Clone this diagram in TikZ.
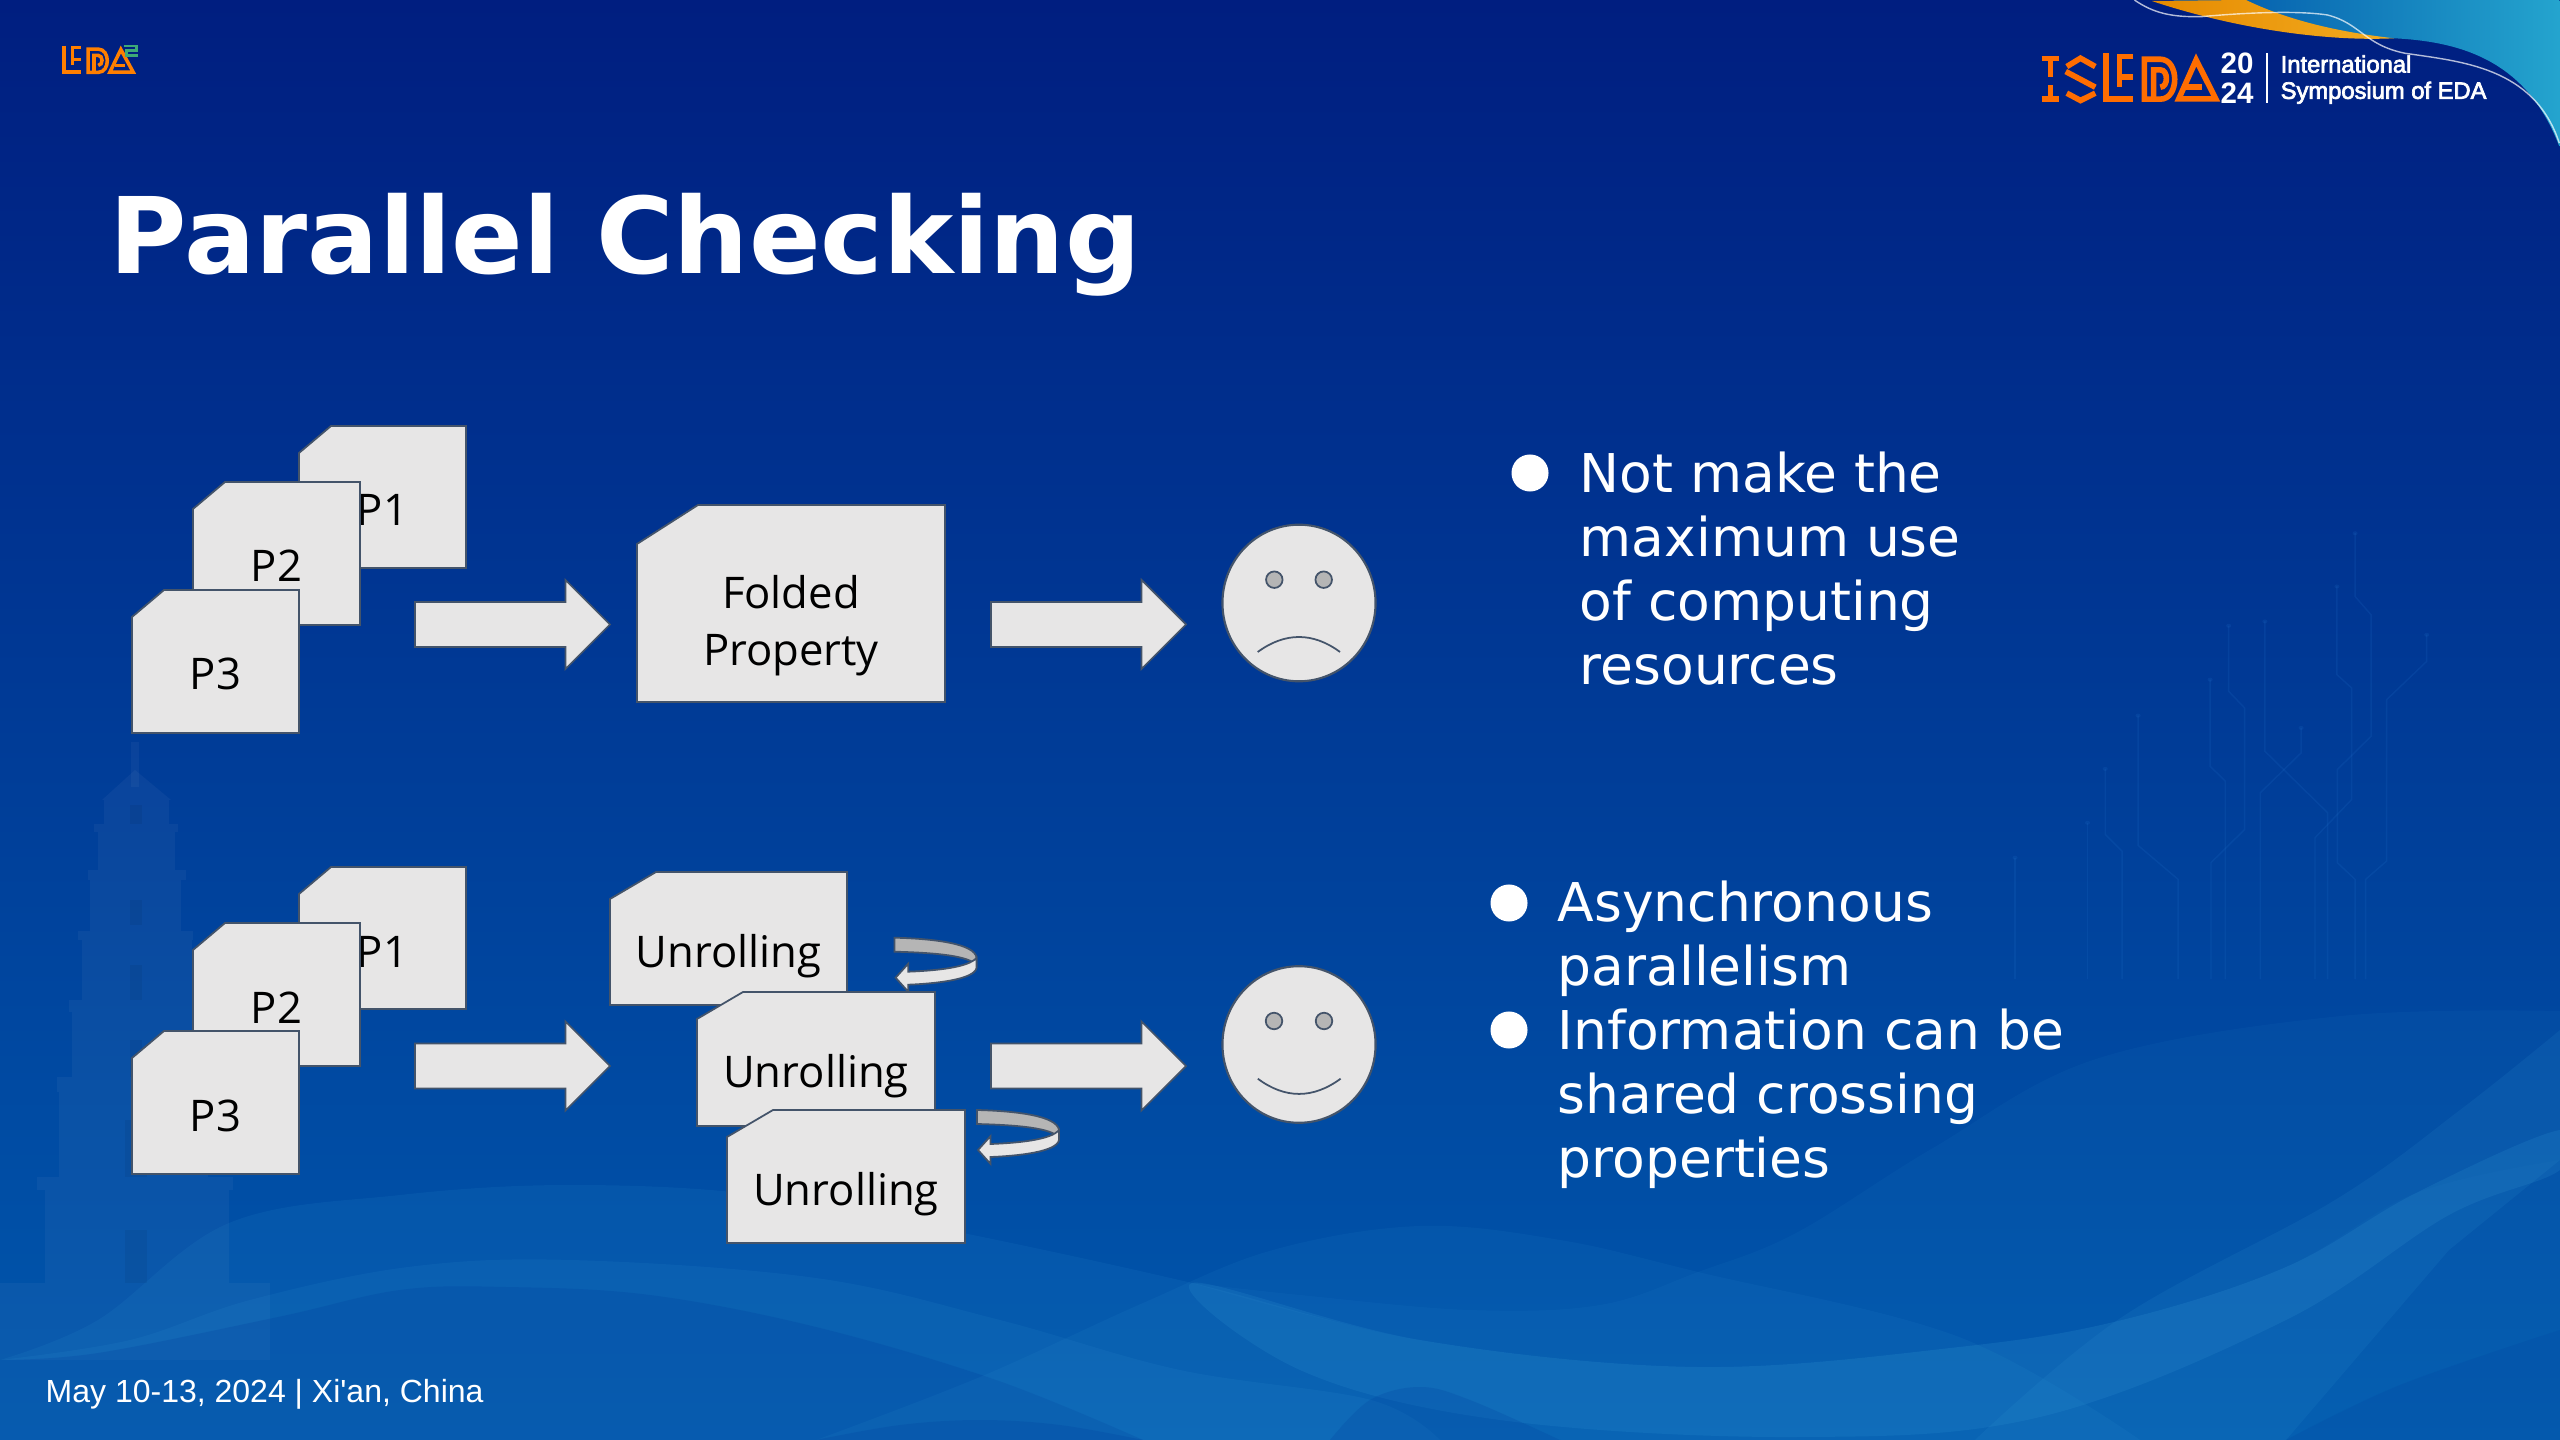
\documentclass[tikz,border=0pt]{standalone}
\usepackage{fontspec}
\usetikzlibrary{shapes.geometric,shapes.arrows}
\setmainfont{DejaVu Sans}
\newfontfamily\labelfont{Open Sans}
\newfontfamily\footfont{Liberation Sans}
\newfontfamily\logofont[BoldFont=Liberation Sans,BoldFeatures={FakeBold=3}]{Liberation Sans}
\newfontfamily\yearfont{Liberation Sans}
\definecolor{cardfill}{HTML}{E7E6E6}
\definecolor{cardline}{HTML}{44546A}
\definecolor{eyefill}{HTML}{B5B5B5}
\definecolor{logoorange}{HTML}{FF6D00}
\definecolor{logogreen}{HTML}{3DAA78}
\definecolor{waveblue}{HTML}{3FA8E0}
\definecolor{wavedeep}{HTML}{003C9C}
\definecolor{traceblue}{HTML}{2878D2}
\tikzset{
    cardshape/.style={fill=cardfill,draw=cardline,line width=0.5pt,line join=miter},
    cardtext/.style={font=\labelfont\fontsize{12.4}{16.4}\selectfont,text=black,inner sep=0pt,anchor=base},
    blockarrow/.style={single arrow,fill=cardfill,draw=cardline,line width=0.5pt,minimum height=1.95cm,anchor=tail,
        minimum width=0.87cm,single arrow head extend=0.22cm,inner xsep=0pt,inner ysep=0.215cm},
    faceshape/.style={ellipse,fill=cardfill,draw=cardline,line width=0.6pt,minimum width=1.53cm,minimum height=1.565cm,inner sep=0pt},
    eyeshape/.style={circle,fill=eyefill,draw=cardline,line width=0.5pt,minimum size=0.165cm,inner sep=0pt},
    mouthline/.style={draw=cardline,line width=0.5pt},
    bulletdot/.style={circle,fill=white,minimum size=0.37cm,inner sep=0pt},
    bullettext/.style={font=\fontsize{15.2}{18.2}\selectfont,text=white,align=left,inner sep=0pt,anchor=north west},
    logostroke/.style={draw=logoorange,line width=1.6pt,line join=miter},
    tracing/.style={draw=traceblue,opacity=0.15,line width=0.4pt},
    wavefill/.style={fill=waveblue,fill opacity=#1},
}
\newcommand{\card}[9]{
    \draw[cardshape] (#2+#6,#3) -- (#2+#4,#3) -- (#2+#4,#3+#5) -- (#2,#3+#5) -- (#2,#3+#7) -- cycle;
    \pgfmathsetmacro{\cardmid}{#2+#4/2}
    \node[cardtext] (#1) at (\cardmid,#8) {#9};
}
\newcommand{\turnarrow}[3]{
    \begin{scope}[shift={(#2,#3)}]
        \coordinate (#1) at (0,0);
        \draw[fill=eyefill,draw=cardline,line width=0.5pt] (0,0) .. controls (40,1) and (80,6) .. (82,20) -- (82,28)
            .. controls (76,18) and (40,15) .. (0,14) -- cycle;
        \draw[fill=cardfill,draw=cardline,line width=0.5pt] (82,20) -- (82,30) .. controls (80,42) and (40,46) .. (13.6,47)
            -- (13.6,54) -- (1,40) -- (13.6,26) -- (13.6,34) .. controls (40,33) and (74,30) .. (82,20) -- cycle;
    \end{scope}
}
\newcommand{\edaletters}{
    \draw[logostroke] (8,0) -- (8,137) -- (82,137);
    \draw[logostroke] (82,10) -- (45,10) -- (45,102);
    \draw[logostroke] (45,72) -- (82,72);
    \draw[logostroke] (112,18) -- (155,18) .. controls (207,18) and (207,138) .. (155,138) -- (112,138) -- cycle;
    \draw[logostroke] (137,138) -- (137,50) -- (155,50) .. controls (177,50) and (177,102) .. (155,102);
    \draw[logostroke,line join=miter] (252,20) -- (305,137) -- (205,137) -- cycle;
    \draw[logostroke] (225,102) -- (268,102);
}

\begin{document}
\begin{tikzpicture}[x=0.01cm,y=-0.01cm]
    \useasboundingbox (0,0) rectangle (2560,1440);
    % backdrop
    \shade[top color={rgb,255:red,0;green,30;blue,128},middle color={rgb,255:red,0;green,58;blue,146},bottom color={rgb,255:red,0;green,88;blue,173}] (0,0) rectangle (2560,1440);
    % pagoda
    \begin{scope}[fill=white,fill opacity=0.04]
        \fill (131,742) rectangle (139,787);
        \fill (135,770) -- (171,800) -- (102,800) -- cycle;
        \fill (104,800) rectangle (169,824);
        \fill (94,824) rectangle (178,832);
        \fill (98,832) rectangle (175,870);
        \fill (88,870) rectangle (186,880);
        \fill (90,880) rectangle (181,931);
        \fill (78,931) rectangle (193,940);
        \fill (82,940) rectangle (192,1000);
        \fill (69,1000) rectangle (204,1012);
        \fill (72,1012) rectangle (200,1077);
        \fill (57,1077) rectangle (212,1092);
        \fill (59,1092) rectangle (208,1177);
        \fill (37,1177) rectangle (233,1190);
        \fill (45,1190) rectangle (229,1283);
        \fill (0,1283) rectangle (270,1360);
    \end{scope}
    \begin{scope}[fill=black,fill opacity=0.05]
        \fill (130,805) rectangle (142,824);
        \fill (130,900) rectangle (142,925);
        \fill (130,965) rectangle (142,1000);
        \fill (130,1040) rectangle (142,1077);
        \fill (125,1120) rectangle (147,1177);
        \fill (125,1230) rectangle (147,1283);
    \end{scope}
    % traces
    \begin{scope}[shift={(1900,480)},x=0.004209cm,y=-0.003333cm]
        \draw[tracing] (1080,160) -- (1080,350) -- (1118,405) -- (1118,770) -- (1038,870) -- (1038,1150) -- (1080,1200) -- (1080,1500);
        \draw[tracing] (1037,320) -- (1037,585) -- (1072,625) -- (1072,960) -- (985,1075) -- (985,1500);
        \draw[tracing] (1250,465) -- (1250,545) -- (1155,660) -- (1155,1145) -- (1105,1200) -- (1105,1500);
        \draw[tracing] (866,425) -- (866,815) -- (1015,1000) -- (1015,1500);
        \draw[tracing] (952,745) -- (952,820) -- (855,940) -- (855,1500);
        \draw[tracing] (780,438) -- (780,635) -- (818,685) -- (818,1050) -- (738,1150) -- (738,1500);
        \draw[tracing] (736,600) -- (736,860) -- (772,905) -- (772,1500);
        \draw[tracing] (565,708) -- (565,1098) -- (660,1200) -- (660,1500);
        \draw[tracing] (487,868) -- (487,1065) -- (527,1115) -- (527,1500);
        \draw[tracing] (445,1030) -- (445,1500);
        \draw[tracing] (273,1135) -- (273,1500);
        \foreach \dotx/\doty in {1080/160,1037/320,1250/465,866/425,952/745,780/438,736/600,565/708,487/868,445/1030,273/1135}
            \fill[traceblue,opacity=0.15] (\dotx,\doty) circle (6);
    \end{scope}
    % waves
    \fill[wavefill=0.09] plot[smooth,tension=0.6] coordinates {(0,1360) (98,1320) (229,1223) (400,1195) (571,1185) (760,1195) (963,1233) (1192,1283) (1420,1340) (1698,1367) (1959,1347) (2122,1320) (2286,1267) (2416,1193) (2560,1160)} -- (2560,1440) -- (0,1440) -- cycle;
    \fill[wavefill=0.09] plot[smooth,tension=0.6] coordinates {(0,1360) (130,1340) (250,1300) (408,1267) (571,1260) (816,1278) (1000,1320) (1180,1370) (1371,1400) (1440,1440)} -- (0,1440) -- cycle;
    \fill[fill=wavedeep,fill opacity=0.22] plot[smooth,tension=0.6] coordinates {(0,1360) (98,1353) (278,1317) (400,1290) (506,1287) (650,1295) (816,1327) (996,1380) (1143,1440)} -- (0,1440) -- cycle;
    \fill[wavefill=0.08] plot[smooth,tension=0.6] coordinates {(816,1440) (980,1377) (1143,1303) (1273,1250) (1420,1226) (1560,1240) (1698,1272) (1959,1337) (2140,1440)} -- cycle;
    % the big swell on the right, closed along the edge of the first wave
    \fill[wavefill=0.06] plot[smooth,tension=0.6] coordinates {(1192,1283) (1300,1295) (1469,1310) (1600,1305) (1698,1272) (1796,1233) (1933,1148) (2096,1059) (2341,1016) (2560,1011)}
        -- plot[smooth,tension=0.6] coordinates {(2560,1160) (2416,1193) (2286,1267) (2122,1320) (1959,1347) (1698,1367) (1420,1340) (1192,1283)} -- cycle;
    % bright band low in the middle
    \fill[wavefill=0.14] plot[smooth cycle,tension=0.6] coordinates {(1192,1283) (1420,1340) (1698,1367) (1959,1347) (2122,1320) (2286,1267) (2416,1193) (2560,1130) (2560,1170) (2449,1215) (2286,1320) (2040,1417) (1796,1437) (1500,1420) (1300,1370)};
    \fill[wavefill=0.1] plot[smooth,tension=0.6] coordinates {(1975,1440) (2122,1317) (2335,1200) (2460,1110) (2560,1030)} -- (2560,1160) -- (2449,1250) -- (2286,1440) -- cycle;
    \fill[fill=wavedeep,fill opacity=0.2] plot[smooth,tension=0.6] coordinates {(816,1440) (900,1425) (980,1420) (1060,1425) (1143,1440)} -- cycle;
    \fill[fill=wavedeep,fill opacity=0.2] plot[smooth,tension=0.6] coordinates {(1330,1440) (1370,1400) (1420,1387) (1470,1400) (1560,1440)} -- cycle;
    \fill[fill=wavedeep,fill opacity=0.16] plot[smooth,tension=0.6] coordinates {(2286,1440) (2400,1385) (2560,1330)} -- (2560,1440) -- cycle;
    % corner
    \begin{scope}[shift={(1980,0)},x=0.0036996cm,y=-0.003333cm]
        \shade[left color={rgb,255:red,0;green,84;blue,168},right color={rgb,255:red,36;green,164;blue,206}] (520,0) .. controls (650,60) and (850,110) .. (1120,115)
            .. controls (1300,125) and (1480,180) .. (1568,440) -- (1568,0) -- cycle;
        \shade[left color={rgb,255:red,230;green,138;blue,0},right color={rgb,255:red,242;green,172;blue,32}] (465,3) -- (720,0) .. controls (850,70) and (1000,100) .. (1120,115)
            .. controls (950,125) and (700,90) .. (465,3) -- cycle;
        \draw[white,opacity=0.7,line width=0.4pt] (418,0) .. controls (470,40) and (520,52) .. (600,50) .. controls (700,40) and (850,30) .. (940,45)
            .. controls (1030,70) and (1040,135) .. (1150,160) .. controls (1300,185) and (1500,200) .. (1568,430);
        % big logo
        \draw[logostroke] (167,176) -- (215,176);
        \draw[logostroke] (167,297) -- (215,297);
        \draw[logostroke] (191,176) -- (191,230);
        \draw[logostroke] (191,255) -- (191,297);
        \draw[logostroke] (235,200) -- (272,175) -- (312,200);
        \draw[logostroke] (232,215) -- (312,262);
        \draw[logostroke] (235,280) -- (272,302) -- (312,280);
        \begin{scope}[shift={(333,160)}]
            \edaletters
        \end{scope}
        \node[font=\yearfont\bfseries\fontsize{8.4}{8.6}\selectfont,text=white,align=center,inner sep=0pt] (year) at (696,235) {20\\24};
        \draw[white,line width=0.5pt] (777,160) -- (777,310);
        \node[font=\logofont\bfseries\fontsize{6.75}{7.4}\selectfont,text=white,inner sep=0pt,anchor=base west] (symposium) at (812,297) {Symposium of EDA};
        \node[font=\logofont\bfseries\fontsize{6.75}{7.4}\selectfont,text=white,inner sep=0pt,anchor=base west] (international) at (812,218) {International};
    \end{scope}
    % small logo
    \begin{scope}[shift={(62,34)},x=0.00233cm,y=-0.00194cm]
        \tikzset{logostroke/.append style={line width=1pt,draw=logoorange!88!yellow}}
        \begin{scope}[shift={(0,60)}]
            \edaletters
        \end{scope}
        \draw[logogreen,line width=0.8pt] (265,62) -- (320,62) -- (320,85) -- (275,85) -- (275,110) -- (325,110);
    \end{scope}
    % heading
    \node[font=\bfseries\fontsize{30.05}{30}\selectfont,text=white,inner sep=0pt,anchor=base west] (title) at (109,274) {Parallel Checking};
    % first row
    \card{pa}{299}{426}{167}{142}{32}{27}{526}{P1}
    \card{pb}{193}{482}{167}{143}{32}{27}{582}{P2}
    \card{pc}{132}{590}{167}{143}{32}{27}{690}{P3}
    \node[blockarrow] (arrowa) at (414,624.5) {};
    \card{folded}{637}{505}{308}{197}{61}{39}{609}{Folded}
    \node[cardtext] (foldedb) at (791,666) {Property};
    \node[blockarrow] (arrowb) at (990,624.5) {};
    \node[faceshape] (sadface) at (1299,603) {};
    \node[eyeshape] (sadeyea) at (1274.3,579.7) {};
    \node[eyeshape] (sadeyeb) at (1323.7,579.7) {};
    \coordinate (sadmoutha) at (1257.7,652);
    \coordinate (sadmouthb) at (1340,652);
    \draw[mouthline] (sadmoutha) .. controls (1285,632) and (1313,632) .. (sadmouthb);
    % second row
    \card{pd}{299}{867}{167}{142}{32}{27}{967}{P1}
    \card{pe}{193}{923}{167}{143}{32}{27}{1023}{P2}
    \card{pf}{132}{1031}{167}{143}{32}{27}{1131}{P3}
    \node[blockarrow] (arrowc) at (414,1066) {};
    \card{unrolla}{610}{872}{237}{133}{46}{27}{967}{Unrolling}
    \turnarrow{turna}{894.6}{937.7}
    \card{unrollb}{697}{992}{238}{134}{46}{27}{1087}{Unrolling}
    \card{unrollc}{727}{1110}{238}{133}{46}{27}{1205}{Unrolling}
    \turnarrow{turnb}{977}{1110}
    \node[blockarrow] (arrowd) at (990,1066) {};
    \node[faceshape] (happyface) at (1299,1044.5) {};
    \node[eyeshape] (happyeyea) at (1274,1021) {};
    \node[eyeshape] (happyeyeb) at (1324,1021) {};
    \coordinate (happymoutha) at (1257.8,1078.7);
    \coordinate (happymouthb) at (1340.6,1078.7);
    \draw[mouthline] (happymoutha) .. controls (1285,1099) and (1313,1099) .. (happymouthb);
    % notes
    \node[bulletdot] (dota) at (1530,473) {};
    \node[bullettext] (notea) at (1579,451) {Not make the\\maximum use\\of computing\\resources};
    \node[bulletdot] (dotb) at (1509,903) {};
    \node[bulletdot] (dotc) at (1509,1030) {};
    \node[bullettext] (noteb) at (1557,880) {Asynchronous\\parallelism\\Information can be\\shared crossing\\properties};
    % footer
    \node[font=\footfont\fontsize{9.1}{11}\selectfont,text=white,inner sep=0pt,anchor=base west] (footer) at (45,1402) {May 10-13, 2024 | Xi'an, China};
\end{tikzpicture}
\end{document}
